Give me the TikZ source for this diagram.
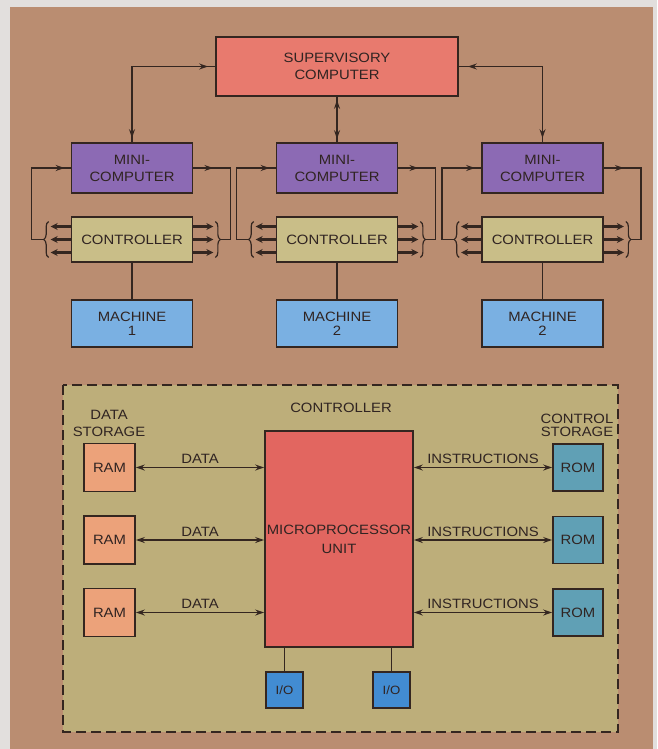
\documentclass[tikz,border=0pt]{standalone}
\usepackage{fontspec}
\setmainfont{Liberation Sans}[FakeStretch=1.1]
\usetikzlibrary{arrows.meta,decorations.markings,decorations.pathreplacing}
\definecolor{outerc}{RGB}{226,223,221}
\definecolor{panelc}{RGB}{186,141,113}
\definecolor{innerc}{RGB}{189,174,122}
\definecolor{linec}{RGB}{52,38,32}
\definecolor{textc}{RGB}{48,36,34}
\definecolor{supc}{RGB}{232,122,110}
\definecolor{minic}{RGB}{140,106,180}
\definecolor{ctrlc}{RGB}{201,190,136}
\definecolor{machc}{RGB}{122,176,226}
\definecolor{ramc}{RGB}{236,162,122}
\definecolor{mpuc}{RGB}{226,102,96}
\definecolor{romc}{RGB}{96,160,181}
\definecolor{ioc}{RGB}{66,140,210}
\tikzset{
  >={Stealth[length=9pt,width=6pt]},
  box/.style={draw=linec, line width=1.7pt, inner sep=0pt, align=center, text=textc},
  conn/.style={draw=linec, line width=1.6pt},
  stub/.style={draw=linec, line width=2.2pt, -{Stealth[length=7pt,width=7pt]}},
  bracec/.style={draw=linec, line width=1.2pt, decorate, decoration={brace,amplitude=5pt}},
  arrat/.style={postaction={decorate,decoration={markings,mark=at position #1 with {\arrow{>}}}}},
  rarrat/.style={postaction={decorate,decoration={markings,mark=at position #1 with {\arrowreversed{>}}}}},
  lbl/.style={text=textc, align=center, inner sep=1pt}
}
\begin{document}
\begin{tikzpicture}[x=1pt,y=-1pt,font=\fontsize{13.5}{17}\selectfont]
\useasboundingbox (0,0) rectangle (657,749);
\fill[outerc] (0,0) rectangle (657,749);
\fill[panelc] (10,7) rectangle (653,749);

% supervisory
\node[box, fill=supc, minimum width=242pt, minimum height=59pt] (sup) at (337,66.5) {SUPERVISORY\\COMPUTER};

\foreach \i/\x/\n in {1/132/1, 2/337/2, 3/542.5/2} {
  \node[box, fill=minic, minimum width=121pt, minimum height=50pt] (mini\i) at (\x,168) {MINI-\\COMPUTER};
  \node[box, fill=ctrlc, minimum width=121pt, minimum height=45pt] (ctrl\i) at (\x,239.5) {CONTROLLER};
  \node[box, fill=machc, minimum width=121pt, minimum height=47pt, font=\fontsize{13.5}{14}\selectfont] (mach\i) at (\x,323.5) {MACHINE\\\n};
  \draw[conn] (ctrl\i.south) -- (mach\i.north);
  % stubs
  \foreach \dy/\k in {13/a,0/b,-13/c} {
    \coordinate (sl\k\i) at ([xshift=-20pt,yshift=\dy pt]ctrl\i.west);
    \coordinate (sr\k\i) at ([xshift=20pt,yshift=\dy pt]ctrl\i.east);
    \draw[stub] ([yshift=\dy pt]ctrl\i.west) -- (sl\k\i);
    \draw[stub] ([yshift=\dy pt]ctrl\i.east) -- (sr\k\i);
  }
  % braces
  \draw[bracec] ([xshift=-22pt,yshift=-18pt]ctrl\i.west) -- ([xshift=-22pt,yshift=18pt]ctrl\i.west);
  \draw[bracec] ([xshift=22pt,yshift=18pt]ctrl\i.east) -- ([xshift=22pt,yshift=-18pt]ctrl\i.east);
  % loops
  \coordinate (lt\i) at ([xshift=-27pt]ctrl\i.west);
  \coordinate (lc\i) at ([xshift=-39pt]ctrl\i.west);
  \coordinate (rt\i) at ([xshift=27pt]ctrl\i.east);
  \coordinate (rc\i) at ([xshift=37pt]ctrl\i.east);
  \draw[conn, arrat=-6pt] (lt\i) -- (lc\i) |- (mini\i.west);
  \draw[conn, arrat=20pt] (mini\i.east) -| (rc\i) -- (rt\i);
}

\draw[conn, rarrat=7pt, arrat=-4pt] (sup.west) -| (mini1.north);
\draw[conn, rarrat=3pt, arrat=-3pt] (sup.south) -- (mini2.north);
\draw[conn, rarrat=9pt, arrat=-4pt] (sup.east) -| (mini3.north);

% controller detail
\draw[linec, line width=1.5pt, fill=innerc, dash pattern=on 10pt off 5pt] (63,385) rectangle (618,732);
\node[lbl] (ctitle) at (341,408) {CONTROLLER};
\node[lbl] (dstor) at (109,423) {DATA\\STORAGE};
\node[lbl, font=\fontsize{13.5}{13.5}\selectfont] (cstor) at (577,425.5) {CONTROL\\STORAGE};

\node[box, fill=mpuc, minimum width=148pt, minimum height=216pt, font=\fontsize{13.5}{19}\selectfont] (mpu) at (339,539) {MICROPROCESSOR\\UNIT};

\foreach \j/\y in {1/467.5, 2/540, 3/612.5} {
  \node[box, fill=ramc, minimum width=51pt, minimum height=48pt] (ram\j) at (109.5,\y) {RAM};
  \node[box, fill=romc, minimum width=50pt, minimum height=47pt] (rom\j) at (578,\y) {ROM};
  \draw[conn, <->] (ram\j.east) -- (mpu.west |- ram\j.east) node[lbl, midway, above=2pt] {DATA};
  \draw[conn, <->] (mpu.east |- rom\j.west) -- (rom\j.west) node[lbl, midway, above=2pt] {INSTRUCTIONS};
}

\node[box, fill=ioc, minimum width=37pt, minimum height=36pt, font=\fontsize{12}{14}\selectfont] (io1) at (284.5,690) {I/O};
\node[box, fill=ioc, minimum width=37pt, minimum height=36pt, font=\fontsize{12}{14}\selectfont] (io2) at (391.5,690) {I/O};
\draw[conn] (io1.north |- mpu.south) -- (io1.north);
\draw[conn] (io2.north |- mpu.south) -- (io2.north);
\end{tikzpicture}
\end{document}
